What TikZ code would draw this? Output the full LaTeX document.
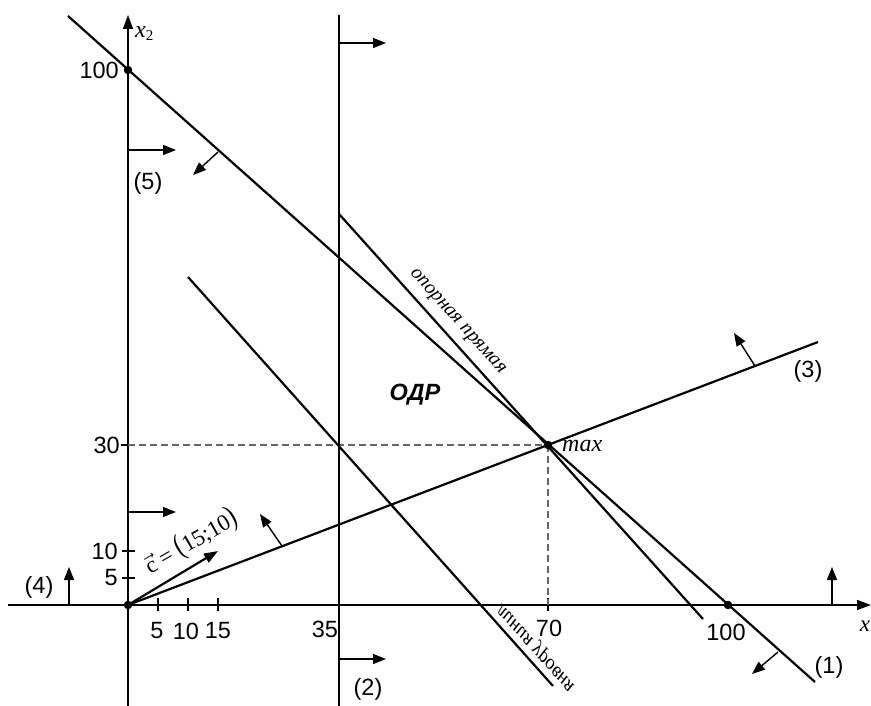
\documentclass[tikz,border=0pt]{standalone}
\usepackage{fontspec}
\setmainfont{Liberation Sans}
\newfontfamily\seriffont{Liberation Serif}
\usetikzlibrary{arrows.meta}
\begin{document}
\begin{tikzpicture}[x=1pt,y=-1pt,
  ax/.style={line width=1.4pt},
  ln/.style={line width=2.2pt},
  thickln/.style={line width=2.9pt},
  dirarr/.style={line width=1.4pt,-{Triangle[length=13pt,width=10pt]}},
  axarr/.style={line width=1.4pt,-{Triangle[length=14pt,width=10pt]}},
  num/.style={font=\fontsize{23.5}{27}\selectfont, inner sep=0pt},
  lbl/.style={font=\seriffont\itshape\fontsize{20}{24}\selectfont, inner sep=0pt},
  dashln/.style={line width=1.3pt, black!60, dash pattern=on 7pt off 4pt},
  dot/.style={circle, fill, inner sep=0pt, minimum size=8.5pt}]
\useasboundingbox (0,0) rectangle (871,706);

% coordinates
\coordinate (O) at (128,605);
\coordinate (xs) at (8,605);
\coordinate (xe) at (871,605);
\coordinate (ys) at (128,706);
\coordinate (ye) at (128,15);
\coordinate (l1a) at (68,16);
\coordinate (l1b) at (815,682);
\coordinate (l2a) at (339,15);
\coordinate (l2b) at (339,706);
\coordinate (l3b) at (818,342);
\coordinate (opa) at (339,214);
\coordinate (opb) at (703,619);
\coordinate (lva) at (188,277);
\coordinate (lvb) at (553,686);
\coordinate (M) at (548,445);
\coordinate (y30) at (128,445);
\coordinate (x70) at (548,605);

% axes
\draw[axarr] (xs) -- (xe);
\draw[axarr] (ys) -- (ye);

% ticks
\foreach \xx in {158,188,218} \draw[ax] (\xx,598) -- (\xx,611);
\draw[ax] (548,598) -- (548,611);
\draw[ax] (122,551) -- (135,551);
\draw[ax] (122,578) -- (135,578);
\draw[ax] (121,445) -- (128,445);

% dashed
\draw[dashln] (y30) -- (M);
\draw[dashln] (M) -- (x70);

% main lines
\draw[ln] (l1a) -- (l1b);
\draw[thickln] (l2a) -- (l2b);
\draw[ln] (O) -- (l3b);
\draw[ln] (opa) -- (opb);
\draw[ln] (lva) -- (lvb);

% direction arrows
\coordinate (a1s) at (218,152); \coordinate (a1e) at (193,175);
\draw[dirarr] (a1s) -- (a1e);
\coordinate (a1s2) at (778,652); \coordinate (a1e2) at (752,674);
\draw[dirarr] (a1s2) -- (a1e2);
\coordinate (a2s) at (339,43); \coordinate (a2e) at (386,43);
\draw[dirarr] (a2s) -- (a2e);
\coordinate (a2s2) at (339,659); \coordinate (a2e2) at (386,659);
\draw[dirarr] (a2s2) -- (a2e2);
\coordinate (a3s) at (282,546); \coordinate (a3e) at (260,514);
\draw[dirarr] (a3s) -- (a3e);
\coordinate (a3s2) at (755,366); \coordinate (a3e2) at (734,333);
\draw[dirarr] (a3s2) -- (a3e2);
\coordinate (a4s) at (69,605); \coordinate (a4e) at (69,567);
\draw[dirarr] (a4s) -- (a4e);
\coordinate (a4s2) at (832,605); \coordinate (a4e2) at (832,567);
\draw[dirarr] (a4s2) -- (a4e2);
\coordinate (a5s) at (128,150); \coordinate (a5e) at (176,150);
\draw[dirarr] (a5s) -- (a5e);
\coordinate (a5s2) at (128,512); \coordinate (a5e2) at (176,512);
\draw[dirarr] (a5s2) -- (a5e2);

% vector c
\coordinate (C) at (218,551);
\draw[line width=2.2pt,-{Triangle[length=14pt,width=10pt]}] (O) -- (C);

% dots
\node[dot] (d0) at (O) {};
\node[dot] (d100y) at (128,70) {};
\node[dot] (d100x) at (728,605) {};
\node[dot] (dM) at (M) {};

% labels
\node[num, anchor=east] (t100y) at (119,70) {100};
\node[num, anchor=east] (t30) at (120,445) {30};
\node[num, anchor=east] (t10) at (118,551) {10};
\node[num, anchor=east] (t5y) at (118,578) {5};
\node[num] (t5) at (157,631) {5};
\node[num] (t10x) at (186,631) {10};
\node[num] (t15) at (218,631) {15};
\node[num] (t35) at (325,629) {35};
\node[num] (t70) at (549,628) {70};
\node[num] (t100x) at (726,632) {100};
\node[num] (c1) at (829,667) {(1)};
\node[num] (c2) at (368,689) {(2)};
\node[num] (c3) at (808,371) {(3)};
\node[num] (c4) at (39,587) {(4)};
\node[num] (c5) at (148,183) {(5)};
\node[inner sep=0pt, font=\seriffont\itshape\fontsize{23}{27}\selectfont, anchor=base] (xlab) at (865,631) {x};
\node[inner sep=0pt, anchor=base west] (x2lab) at (135,38) {\seriffont\fontsize{24}{27}\selectfont\itshape x\upshape\fontsize{15}{15}\selectfont\raisebox{-3pt}{2}};
\node[inner sep=0pt, anchor=base west, font=\seriffont\itshape\fontsize{24}{28}\selectfont] (maxlab) at (562,451) {max};
\node[inner sep=0pt, font=\bfseries\itshape\fontsize{23.5}{27}\selectfont] (odr) at (415,395) {ОДР};
\node[lbl, rotate=-48.05] (oplab) at (457,322) {опорная прямая};
\node[lbl, rotate=-48.2] (lvlab) at (537,647) {\scalebox{1}[-1]{линия уровня}};
\node[inner sep=0pt, rotate=30, font=\seriffont\fontsize{23}{27}\selectfont] (clab) at (191,542) {$\vec{\hbox{\seriffont\fontsize{23}{27}\selectfont c}}$ = \scalebox{1}[1.35]{(}15;10\scalebox{1}[1.35]{)}};
\end{tikzpicture}
\end{document}
